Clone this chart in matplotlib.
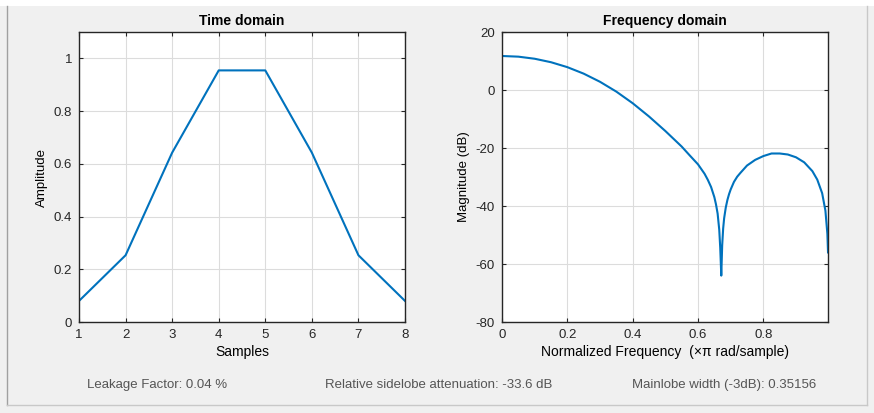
import numpy as np
import matplotlib
matplotlib.use('Agg')
import matplotlib.pyplot as plt
from matplotlib.lines import Line2D

plt.rcParams['font.family'] = ['Liberation Sans', 'DejaVu Sans']
plt.rcParams['axes.unicode_minus'] = False

# time domain (8-point window)
muestras = [1, 2, 3, 4, 5, 6, 7, 8]
amplitud = [0.08, 0.2532, 0.6424, 0.9544, 0.9544, 0.6424, 0.2532, 0.08]

# frequency domain
frec = [0.0, 0.05, 0.1, 0.15, 0.2, 0.25, 0.3, 0.35, 0.4, 0.45, 0.5, 0.55,
        0.575, 0.6, 0.62, 0.63, 0.64, 0.65, 0.655, 0.66, 0.665, 0.668, 0.6712,
        0.674, 0.677, 0.68, 0.685, 0.69, 0.695, 0.7, 0.71, 0.72, 0.73, 0.75,
        0.775, 0.8, 0.825, 0.85, 0.875, 0.9, 0.925, 0.95, 0.965, 0.98,
        0.99, 0.996, 0.998]
mag_db = [11.73, 11.50, 10.78, 9.58, 7.88, 5.64, 2.83, -0.56, -4.56, -9.13,
          -14.14, -19.50, -22.6, -25.64, -28.88, -30.98, -33.45, -36.95, -39.43,
          -42.6, -48.2, -54.4, -64.0, -53.5, -47.7, -44.2, -40.5, -37.9, -35.9,
          -34.29, -31.69, -29.88, -28.55, -26.04, -24.09, -22.78, -21.89, -21.89,
          -22.24, -23.20, -24.93, -27.96, -30.89, -35.58, -41.6, -49.6, -56.0]

stats = ['Leakage Factor: 0.04 %',
         'Relative sidelobe attenuation: -33.6 dB',
         'Mainlobe width (-3dB): 0.35156']

azul = '#0072BD'
fs = 9.5

fig = plt.figure(figsize=(8.74, 4.13), dpi=100, facecolor='#f0f0f0')

def estilo(ax):
    ax.set_facecolor('white')
    ax.grid(True, color='#dcdcdc', linewidth=0.8)
    ax.set_axisbelow(True)
    for s in ax.spines.values():
        s.set_color('#262626')
        s.set_linewidth(1.0)
    ax.tick_params(direction='in', top=True, right=True, length=3,
                   labelsize=fs, colors='#262626', pad=5)

ax1 = fig.add_axes([0.0904, 0.2203, 0.373, 0.7022])
ax1.plot(muestras, amplitud, color=azul, linewidth=1.5)
ax1.set_xlim(1, 8)
ax1.set_ylim(0, 1.1)
ax1.set_xticks(muestras)
ax1.set_yticks([0, 0.2, 0.4, 0.6, 0.8, 1])
ax1.set_yticklabels(['0', '0.2', '0.4', '0.6', '0.8', '1'])
estilo(ax1)
ax1.set_title('Time domain', fontsize=fs + 0.5, fontweight='bold', pad=5)
ax1.set_xlabel('Samples', fontsize=fs + 0.5, labelpad=3)
ax1.set_ylabel('Amplitude', fontsize=fs, labelpad=4)

ax2 = fig.add_axes([0.5744, 0.2203, 0.373, 0.7022])
ax2.plot(frec, mag_db, color=azul, linewidth=1.5)
ax2.set_xlim(0, 0.998)
ax2.set_ylim(-80, 20)
ax2.set_xticks([0, 0.2, 0.4, 0.6, 0.8])
ax2.set_xticklabels(['0', '0.2', '0.4', '0.6', '0.8'])
ax2.set_yticks([-80, -60, -40, -20, 0, 20])
estilo(ax2)
ax2.set_title('Frequency domain', fontsize=fs + 0.5, fontweight='bold', pad=5)
ax2.set_xlabel('Normalized Frequency  (\u00d7\u03c0 rad/sample)', fontsize=fs + 0.5, labelpad=3)
ax2.set_ylabel('Magnitude (dB)', fontsize=fs, labelpad=4)

# textos de abajo
xs = [87 / 874, 325 / 874, 632 / 874]
for x, t in zip(xs, stats):
    fig.text(x, 1 - 385 / 413, t, fontsize=fs, color='#555555', va='center')

# marco de la ventana
fig.patches.append(plt.Rectangle((0, 1 - 6 / 413), 1, 6 / 413, transform=fig.transFigure,
                                 facecolor='white', edgecolor='none'))
fig.add_artist(Line2D([7 / 874, 7 / 874], [1 - 405 / 413, 1 - 6 / 413], color='#a0a0a0', linewidth=1))
fig.add_artist(Line2D([867 / 874, 867 / 874], [1 - 405 / 413, 1 - 6 / 413], color='#c8c8c8', linewidth=1))
fig.add_artist(Line2D([7 / 874, 867 / 874], [1 - 405 / 413, 1 - 405 / 413], color='#c8c8c8', linewidth=1))

fig.savefig('out.png', dpi=100, facecolor=fig.get_facecolor())
